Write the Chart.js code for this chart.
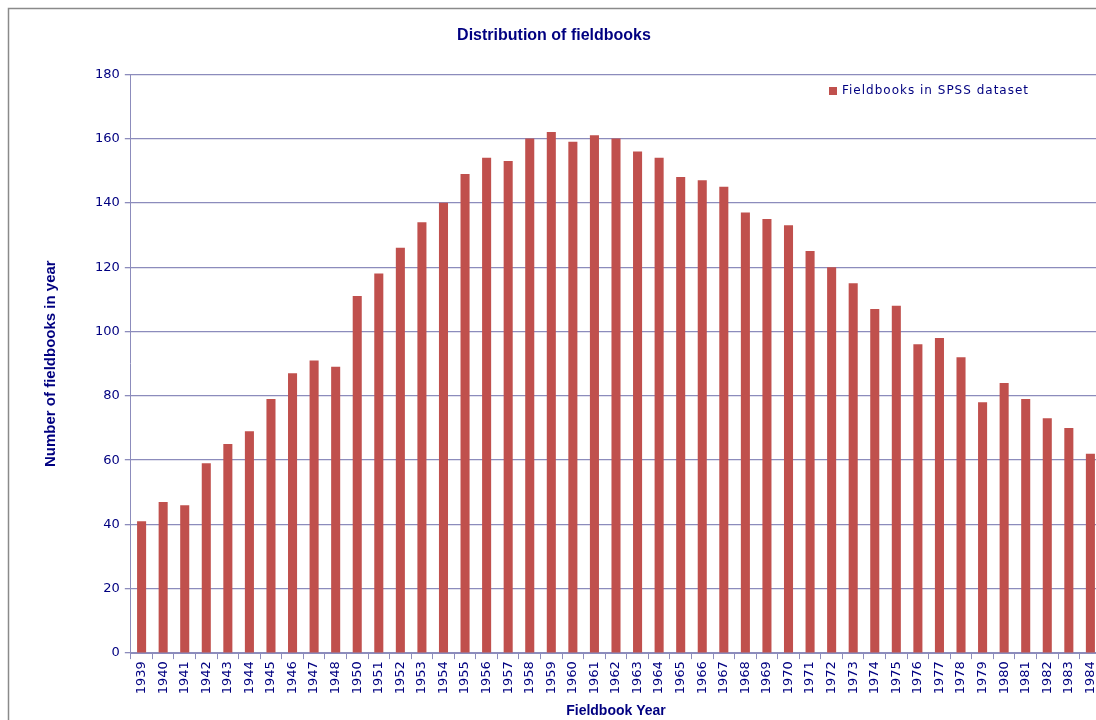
<!DOCTYPE html>
<html>
<head>
<meta charset="utf-8">
<script src="https://cdn.jsdelivr.net/npm/chart.js@4/dist/chart.umd.min.js"></script>
<style>
  html, body { margin: 0; padding: 0; background: #fff; overflow: hidden; }
  #wrap { width: 1096px; height: 720px; overflow: hidden; }
</style>
</head>
<body>
<div id="wrap"><canvas id="fieldChart" width="1108" height="720"></canvas></div>
<script>
// Fieldbook years (1949 is not in the dataset)
const years = ['1939', '1940', '1941', '1942', '1943', '1944', '1945', '1946', '1947', '1948',
    '1950', '1951', '1952', '1953', '1954', '1955', '1956', '1957', '1958', '1959',
    '1960', '1961', '1962', '1963', '1964', '1965', '1966', '1967', '1968', '1969',
    '1970', '1971', '1972', '1973', '1974', '1975', '1976', '1977', '1978', '1979',
    '1980', '1981', '1982', '1983', '1984'];

const fieldbookCounts = [41, 47, 46, 59, 65, 69, 79, 87, 91, 89,
    111, 118, 126, 134, 140, 149, 154, 153, 160, 162,
    159, 161, 160, 156, 154, 148, 147, 145, 137, 135,
    133, 125, 120, 115, 107, 108, 96, 98, 92, 78,
    84, 79, 73, 70, 62];

const yTicks = [0, 20, 40, 60, 80, 100, 120, 140, 160, 180];

const navy = '#000080';
const gridColor = '#8c8cbc';

// Frame of the chart (only top and left edges are visible)
const framePlugin = {
    id: 'frame',
    beforeDraw(chart) {
        const ctx = chart.ctx;
        ctx.save();
        ctx.strokeStyle = '#8a8a8a';
        ctx.lineWidth = 1.5;
        ctx.beginPath();
        ctx.moveTo(8.5, 720);
        ctx.lineTo(8.5, 8.5);
        ctx.lineTo(chart.width, 8.5);
        ctx.stroke();
        ctx.restore();
    }
};

// Legend drawn inside the plot, top right
const insideLegend = {
    id: 'insideLegend',
    afterDraw(chart) {
        const ctx = chart.ctx;
        const ds = chart.data.datasets[0];
        ctx.save();
        ctx.fillStyle = ds.backgroundColor;
        ctx.fillRect(829, 87, 8, 8);
        ctx.fillStyle = navy;
        ctx.font = '12px "DejaVu Sans"';
        ctx.textBaseline = 'middle';
        ctx.letterSpacing = '1px';
        ctx.fillText(ds.label, 842, 91);
        ctx.restore();
    }
};

const ctx = document.getElementById('fieldChart').getContext('2d');
new Chart(ctx, {
    type: 'bar',
    data: {
        labels: years,
        datasets: [{
            label: 'Fieldbooks in SPSS dataset',
            data: fieldbookCounts,
            backgroundColor: '#C0504D',
            borderWidth: 0,
            categoryPercentage: 1,
            barPercentage: 0.42
        }]
    },
    options: {
        responsive: false,
        animation: false,
        layout: { padding: { left: 0, right: 0, top: 14, bottom: 0 } },
        plugins: {
            legend: { display: false },
            tooltip: { enabled: false },
            title: {
                display: true,
                text: 'Distribution of fieldbooks',
                color: navy,
                font: { family: 'Liberation Sans', size: 16, weight: 'bold' },
                padding: { top: 12, bottom: 29 }
            }
        },
        scales: {
            x: {
                grid: { display: true, drawOnChartArea: false, drawTicks: true, tickLength: 6, color: gridColor },
                border: { color: gridColor },
                ticks: {
                    color: navy,
                    font: { family: 'DejaVu Sans', size: 13 },
                    maxRotation: 90,
                    minRotation: 90,
                    autoSkip: false,
                    padding: 2
                },
                title: {
                    display: true,
                    text: 'Fieldbook Year',
                    color: navy,
                    font: { family: 'Liberation Sans', size: 14, weight: 'bold' },
                    padding: { top: 7, bottom: 0 }
                }
            },
            y: {
                min: 0,
                max: 180,
                afterBuildTicks(axis) { axis.ticks = yTicks.map(v => ({ value: v })); },
                grid: { color: gridColor, tickLength: 6, lineWidth: 1.3 },
                border: { color: gridColor },
                ticks: {
                    color: navy,
                    font: { family: 'DejaVu Sans', size: 13 },
                    padding: 5
                },
                title: {
                    display: true,
                    text: 'Number of fieldbooks in year',
                    color: navy,
                    font: { family: 'Liberation Sans', size: 15, weight: 'bold' },
                    padding: { top: 42, bottom: 30 }
                }
            }
        }
    },
    plugins: [framePlugin, insideLegend]
});
</script>
</body>
</html>
